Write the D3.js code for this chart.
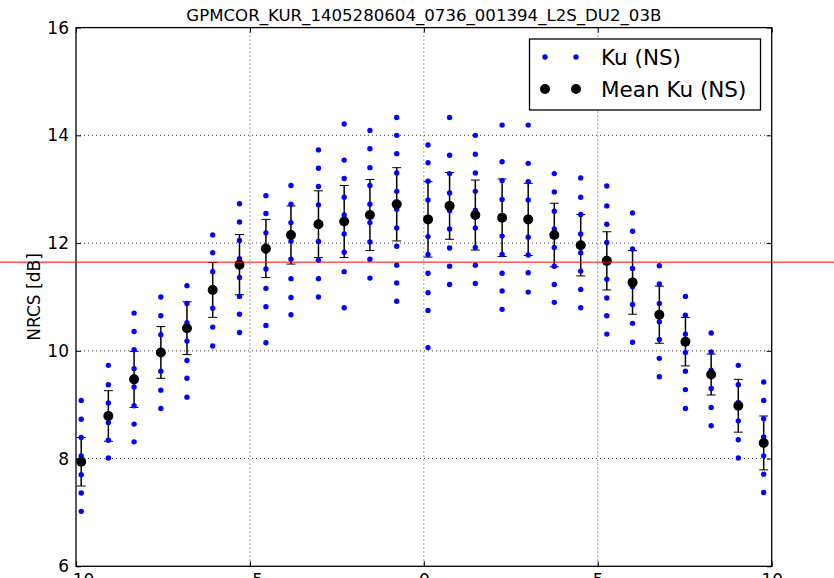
<!DOCTYPE html>
<html>
<head>
<meta charset="utf-8">
<script src="https://cdn.jsdelivr.net/npm/d3@7"></script>
<style>
  body { margin: 0; background: #fff; }
  text { font-family: "DejaVu Sans", sans-serif; fill: #000; }
</style>
</head>
<body>
<script>
const w = 834;
const h = 578;

// incidence angle of each column
const angles = [-9.85, -9.07, -8.33, -7.56, -6.81, -6.07, -5.30, -4.54, -3.82, -3.03,
                -2.29, -1.55, -0.78, 0.12, 0.74, 1.48, 2.25, 3.00, 3.75, 4.51,
                5.26, 6.00, 6.77, 7.52, 8.26, 9.04, 9.77];

// single Ku samples for each column
const kuValues = [
  [9.08, 8.73, 8.39, 8.05, 7.70, 7.36, 7.02],
  [9.73, 9.37, 9.03, 8.67, 8.34, 8.01],
  [10.70, 10.36, 10.02, 9.67, 9.33, 8.98, 8.64, 8.31],
  [11.00, 10.65, 10.30, 9.96, 9.62, 9.27, 8.93],
  [11.21, 10.88, 10.52, 10.18, 9.82, 9.49, 9.14],
  [12.15, 11.82, 11.47, 11.13, 10.79, 10.44, 10.09],
  [12.73, 12.39, 12.05, 11.71, 11.36, 11.01, 10.68, 10.34],
  [12.88, 12.55, 12.19, 11.85, 11.52, 11.16, 10.82, 10.47, 10.15],
  [13.07, 12.72, 12.38, 12.04, 11.70, 11.34, 10.99, 10.67],
  [13.73, 13.39, 13.05, 12.71, 12.37, 12.03, 11.68, 11.34, 11.00],
  [14.21, 13.54, 13.20, 12.85, 12.52, 12.17, 11.83, 11.47, 10.80],
  [14.09, 13.75, 13.40, 13.07, 12.72, 12.38, 12.02, 11.70, 11.35],
  [14.33, 14.00, 13.66, 13.30, 12.96, 12.63, 12.28, 11.94, 11.59, 11.26, 10.92],
  [13.82, 13.49, 13.15, 12.80, 12.46, 12.12, 11.79, 11.44, 11.08, 10.75, 10.06],
  [14.33, 13.63, 13.29, 12.93, 12.60, 12.26, 11.91, 11.57, 11.23],
  [14.00, 13.65, 13.30, 12.96, 12.61, 12.28, 11.92, 11.59, 11.25],
  [14.19, 13.51, 13.16, 12.81, 12.47, 12.13, 11.79, 11.44, 11.11, 10.77],
  [14.19, 13.48, 13.14, 12.80, 12.44, 12.11, 11.78, 11.45, 11.09],
  [13.29, 12.95, 12.59, 12.26, 11.92, 11.57, 11.23, 10.90],
  [13.21, 12.85, 12.53, 12.17, 11.82, 11.48, 11.14, 10.80],
  [13.06, 12.69, 12.35, 12.01, 11.67, 11.33, 10.98, 10.65, 10.31],
  [12.56, 12.22, 11.89, 11.53, 11.19, 10.86, 10.51, 10.16],
  [11.58, 11.24, 10.88, 10.54, 10.21, 9.86, 9.52],
  [11.01, 10.66, 10.31, 9.97, 9.62, 9.28, 8.93],
  [10.33, 9.98, 9.64, 9.30, 8.95, 8.61],
  [9.73, 9.37, 9.04, 8.70, 8.35, 8.01],
  [9.42, 9.08, 8.74, 8.40, 8.05, 7.71, 7.37]
];

const meanValues = [7.94, 8.79, 9.47, 9.97, 10.42, 11.13, 11.60, 11.90, 12.15, 12.35,
                    12.40, 12.52, 12.72, 12.44, 12.69, 12.52, 12.47, 12.44, 12.15, 11.96,
                    11.67, 11.27, 10.67, 10.17, 9.56, 8.98, 8.29];

const stdValues = [0.45, 0.47, 0.52, 0.48, 0.49, 0.51, 0.56, 0.54, 0.54, 0.62,
                   0.67, 0.66, 0.68, 0.70, 0.62, 0.65, 0.72, 0.67, 0.59, 0.57,
                   0.54, 0.59, 0.53, 0.45, 0.38, 0.49, 0.50];

const refLevel = 11.646;
const xTicks = [-10, -5, 0, 5, 10];
const yTicks = [6, 8, 10, 12, 14, 16];
const title = "GPMCOR_KUR_1405280604_0736_001394_L2S_DU2_03B";
const legendLabels = ["Ku (NS)", "Mean Ku (NS)"];

const plotLeft = 76, plotRight = 771.7, plotTop = 27.6, plotBottom = 566.3;

const svg = d3.select("body")
  .append("svg")
  .attr("width", w)
  .attr("height", h);

const xScale = d3.scaleLinear().domain([-10, 10]).range([plotLeft, plotRight]);
const yScale = d3.scaleLinear().domain([6, 16]).range([plotBottom, plotTop]);

// grid
svg.append("g")
  .selectAll("line")
  .data(xTicks.slice(1, -1))
  .enter()
  .append("line")
  .attr("x1", d => xScale(d)).attr("x2", d => xScale(d))
  .attr("y1", plotTop).attr("y2", plotBottom)
  .attr("stroke", "#444").attr("stroke-width", 1).attr("stroke-dasharray", "1,3");

svg.append("g")
  .selectAll("line")
  .data(yTicks.slice(1, -1))
  .enter()
  .append("line")
  .attr("x1", plotLeft).attr("x2", plotRight)
  .attr("y1", d => yScale(d)).attr("y2", d => yScale(d))
  .attr("stroke", "#444").attr("stroke-width", 1).attr("stroke-dasharray", "1,3");

// axes, ticks pointing inwards
const fmt = d => d < 0 ? "\u2212" + Math.abs(d) : String(d);
const xAxis = svg.append("g")
  .attr("transform", "translate(0," + plotBottom + ")")
  .call(d3.axisBottom(xScale).tickValues(xTicks).tickFormat(fmt).tickSizeInner(-5).tickSizeOuter(0).tickPadding(8));
const xAxisTop = svg.append("g")
  .attr("transform", "translate(0," + plotTop + ")")
  .call(d3.axisTop(xScale).tickValues(xTicks).tickFormat("").tickSizeInner(-5).tickSizeOuter(0));
const yAxis = svg.append("g")
  .attr("transform", "translate(" + plotLeft + ",0)")
  .call(d3.axisLeft(yScale).tickValues(yTicks).tickSizeInner(-5).tickSizeOuter(0).tickPadding(7));
const yAxisRight = svg.append("g")
  .attr("transform", "translate(" + plotRight + ",0)")
  .call(d3.axisRight(yScale).tickValues(yTicks).tickFormat("").tickSizeInner(-5).tickSizeOuter(0));

[xAxis, xAxisTop, yAxis, yAxisRight].forEach(g => {
  g.select(".domain").remove();
  g.selectAll("line").attr("stroke", "#000").attr("stroke-width", 1);
  g.selectAll("text").style("font-size", "17px").attr("fill", "#222");
});

// error bars
const bars = svg.append("g").selectAll("g")
  .data(angles)
  .enter()
  .append("g")
  .attr("stroke", "#000")
  .attr("stroke-width", 1.5);

bars.append("line")
  .attr("x1", d => xScale(d)).attr("x2", d => xScale(d))
  .attr("y1", (d, i) => yScale(meanValues[i] + stdValues[i]))
  .attr("y2", (d, i) => yScale(meanValues[i] - stdValues[i]));
bars.append("line")
  .attr("x1", d => xScale(d) - 4.5).attr("x2", d => xScale(d) + 4.5)
  .attr("y1", (d, i) => yScale(meanValues[i] + stdValues[i]))
  .attr("y2", (d, i) => yScale(meanValues[i] + stdValues[i]))
  .attr("stroke-width", 1);
bars.append("line")
  .attr("x1", d => xScale(d) - 4.5).attr("x2", d => xScale(d) + 4.5)
  .attr("y1", (d, i) => yScale(meanValues[i] - stdValues[i]))
  .attr("y2", (d, i) => yScale(meanValues[i] - stdValues[i]))
  .attr("stroke-width", 1);

// single samples
const samples = [];
angles.forEach((a, i) => kuValues[i].forEach(v => samples.push([a, v])));

svg.append("g")
  .selectAll("circle")
  .data(samples)
  .enter()
  .append("circle")
  .attr("cx", d => xScale(d[0]))
  .attr("cy", d => yScale(d[1]))
  .attr("r", 2.7)
  .attr("fill", "#0000ff");

// means
svg.append("g")
  .selectAll("circle")
  .data(angles)
  .enter()
  .append("circle")
  .attr("cx", d => xScale(d))
  .attr("cy", (d, i) => yScale(meanValues[i]))
  .attr("r", 5)
  .attr("fill", "#000");

// frame
svg.append("rect")
  .attr("x", plotLeft).attr("y", plotTop)
  .attr("width", plotRight - plotLeft).attr("height", plotBottom - plotTop)
  .attr("fill", "none").attr("stroke", "#000").attr("stroke-width", 1.3);

// reference line across the whole figure
svg.append("line")
  .attr("x1", 0).attr("x2", w)
  .attr("y1", yScale(refLevel)).attr("y2", yScale(refLevel))
  .attr("stroke", "#ff0000").attr("stroke-width", 1);

// title and label
svg.append("text")
  .attr("x", (plotLeft + plotRight) / 2).attr("y", 21)
  .attr("text-anchor", "middle")
  .style("font-size", "16.6px")
  .text(title);

svg.append("text")
  .attr("transform", "translate(40," + ((plotTop + plotBottom) / 2) + ") rotate(-90)")
  .attr("text-anchor", "middle")
  .style("font-size", "17px")
  .text("NRCS [dB]");

// legend
const legend = svg.append("g").attr("transform", "translate(529.5,39)");
legend.append("rect")
  .attr("width", 231).attr("height", 71)
  .attr("fill", "#fff").attr("stroke", "#000").attr("stroke-width", 1.3);

const legendRows = legend.selectAll("g.row")
  .data(legendLabels)
  .enter()
  .append("g")
  .attr("class", "row")
  .attr("transform", (d, i) => "translate(0," + (18 + i * 32) + ")");

[15.5, 46.5].forEach(mx => {
  legendRows.append("circle")
    .attr("cx", mx).attr("cy", 0)
    .attr("r", (d, i) => i === 0 ? 2.7 : 5)
    .attr("fill", (d, i) => i === 0 ? "#0000ff" : "#000");
});

legendRows.append("text")
  .attr("x", 71.5).attr("dy", "0.36em")
  .style("font-size", "21.5px")
  .text(d => d);
</script>
</body>
</html>
